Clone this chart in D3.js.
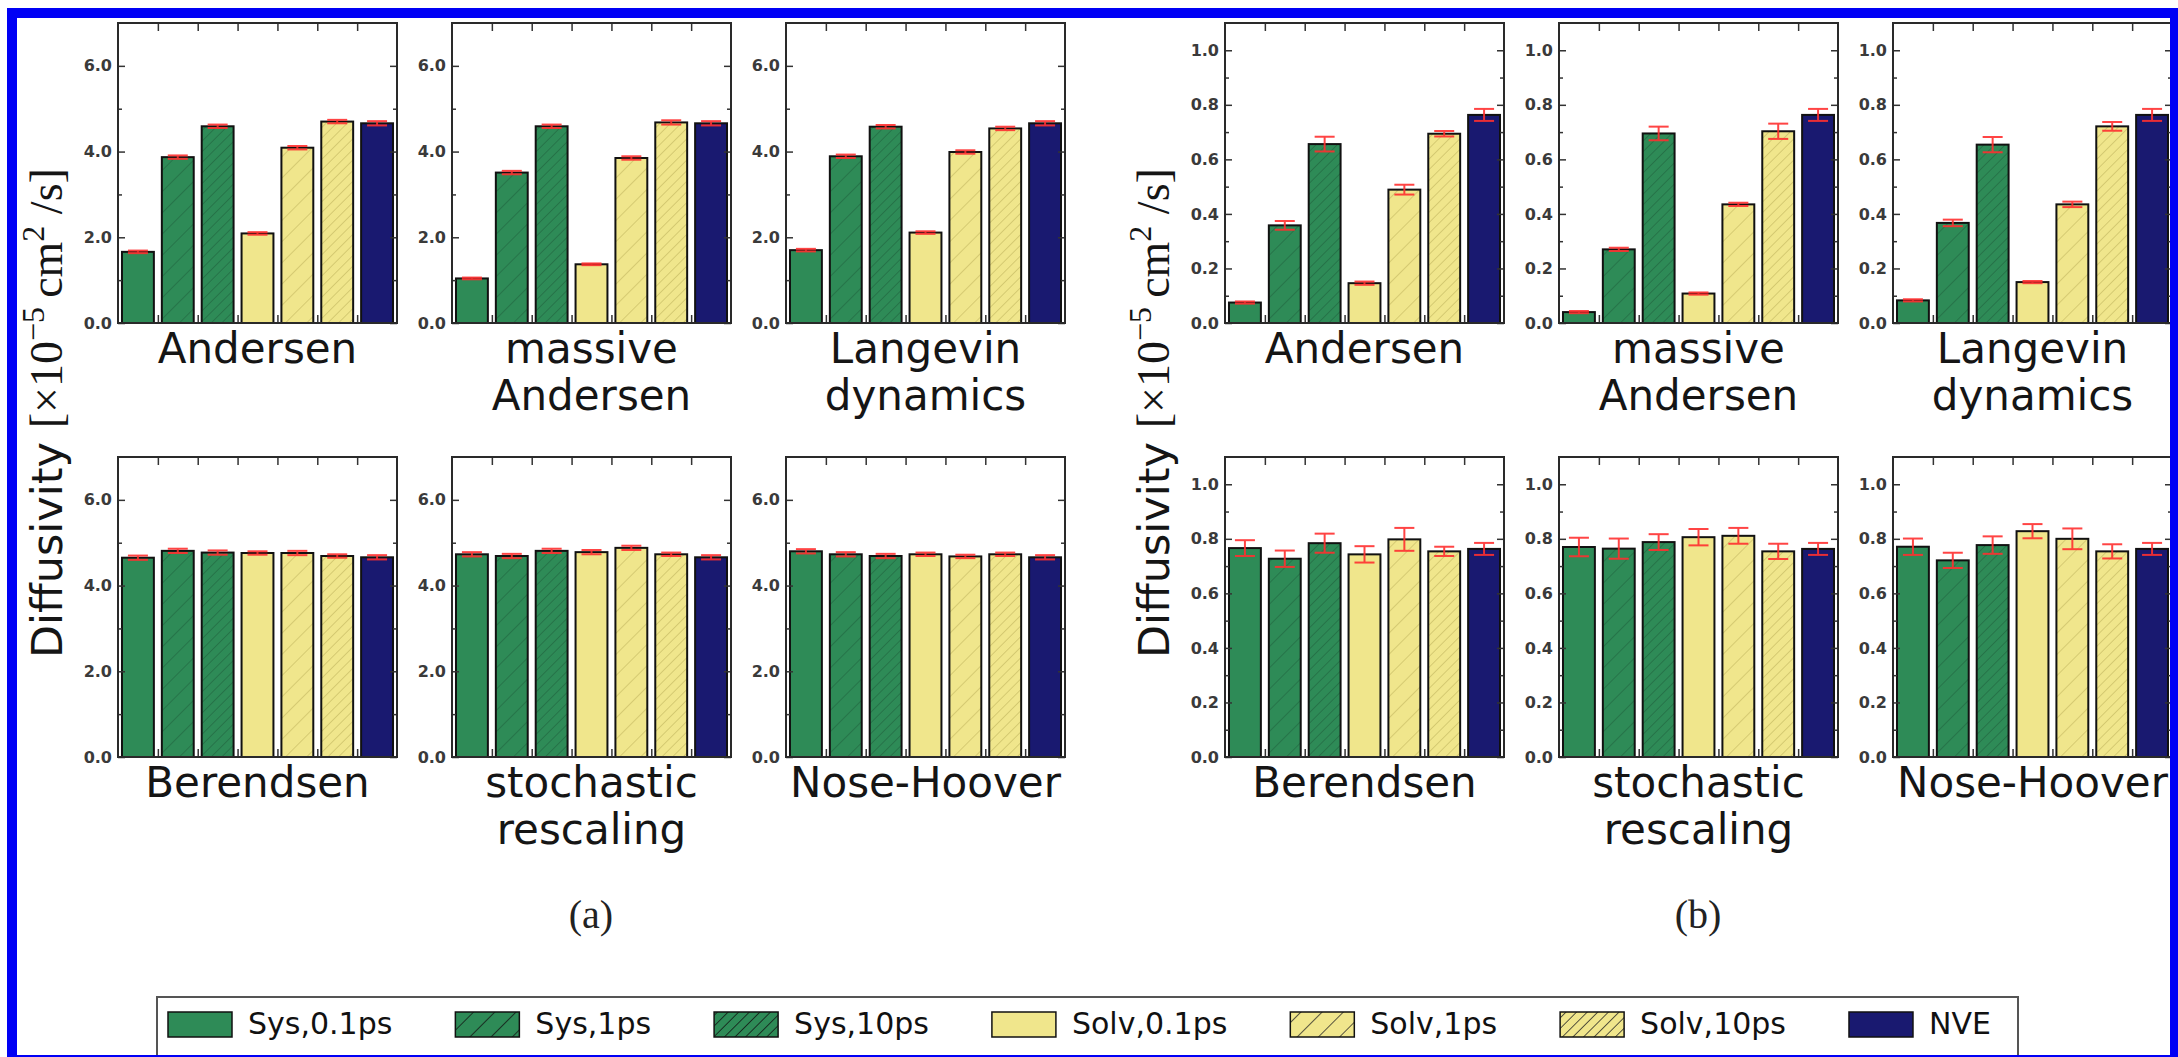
<!DOCTYPE html>
<html>
<head>
<meta charset="utf-8">
<script src="https://cdn.jsdelivr.net/npm/d3@7"></script>
<style>
  html, body { margin: 0; padding: 0; background: #fff; }
  svg { display: block; }
  .tick text { font-family: "DejaVu Sans", sans-serif; font-weight: bold; font-size: 16px; fill: #3a3a3a; }
  .tick line { stroke: #333; stroke-width: 1.5; }
  .cat { font-family: "DejaVu Sans", sans-serif; font-size: 42px; fill: #151515; }
</style>
</head>
<body>
<div id="chart"></div>
<script>
// series (bar order inside every panel)
var series = ["Sys,0.1ps", "Sys,1ps", "Sys,10ps", "Solv,0.1ps", "Solv,1ps", "Solv,10ps", "NVE"];
// thermostat names, one per panel (row 1 then row 2)
var methods = [["Andersen"], ["massive", "Andersen"], ["Langevin", "dynamics"],
               ["Berendsen"], ["stochastic", "rescaling"], ["Nose-Hoover"]];

// (a) diffusivity values
var aAndersen   = [1.66, 3.87, 4.59, 2.09, 4.09, 4.70, 4.66];
var aMassive    = [1.04, 3.51, 4.59, 1.37, 3.85, 4.68, 4.66];
var aLangevin   = [1.70, 3.89, 4.58, 2.11, 3.99, 4.54, 4.66];
var aBerendsen  = [4.65, 4.81, 4.77, 4.76, 4.76, 4.69, 4.66];
var aStochastic = [4.73, 4.69, 4.81, 4.78, 4.88, 4.73, 4.66];
var aNoseHoover = [4.80, 4.73, 4.69, 4.73, 4.68, 4.73, 4.66];
// (a) errors
var aAndersenErr   = [0.03, 0.04, 0.04, 0.03, 0.04, 0.04, 0.05];
var aMassiveErr    = [0.02, 0.04, 0.04, 0.02, 0.04, 0.05, 0.05];
var aLangevinErr   = [0.03, 0.04, 0.04, 0.03, 0.04, 0.04, 0.05];
var aBerendsenErr  = [0.05, 0.05, 0.05, 0.04, 0.05, 0.04, 0.05];
var aStochasticErr = [0.05, 0.05, 0.05, 0.05, 0.05, 0.04, 0.05];
var aNoseHooverErr = [0.05, 0.05, 0.05, 0.04, 0.04, 0.04, 0.05];

// (b) diffusivity values
var bAndersen   = [0.075, 0.358, 0.656, 0.146, 0.489, 0.694, 0.763];
var bMassive    = [0.040, 0.270, 0.695, 0.108, 0.435, 0.703, 0.763];
var bLangevin   = [0.083, 0.367, 0.654, 0.150, 0.435, 0.721, 0.763];
var bBerendsen  = [0.766, 0.727, 0.784, 0.743, 0.798, 0.754, 0.763];
var bStochastic = [0.770, 0.764, 0.788, 0.806, 0.811, 0.754, 0.763];
var bNoseHoover = [0.771, 0.721, 0.777, 0.828, 0.800, 0.754, 0.763];
// (b) errors
var bAndersenErr   = [0.004, 0.016, 0.027, 0.006, 0.018, 0.010, 0.022];
var bMassiveErr    = [0.004, 0.006, 0.025, 0.004, 0.006, 0.028, 0.022];
var bLangevinErr   = [0.004, 0.012, 0.028, 0.004, 0.010, 0.016, 0.022];
var bBerendsenErr  = [0.029, 0.030, 0.035, 0.030, 0.042, 0.017, 0.022];
var bStochasticErr = [0.034, 0.037, 0.029, 0.030, 0.029, 0.028, 0.022];
var bNoseHooverErr = [0.030, 0.028, 0.032, 0.026, 0.038, 0.026, 0.022];

// y ticks
var aMajorTicks = [0, 2, 4, 6];
var aMinorTicks = [1, 3, 5];
var bMajorTicks = [0, 0.2, 0.4, 0.6, 0.8, 1.0];
var bMinorTicks = [0.1, 0.3, 0.5, 0.7, 0.9];

var colors = {
  sys: "#2e8b57",
  solv: "#f0e68c",
  nve: "#191970"
};

var W = 2178, H = 1057;
var pw = 279, ph = 300;
var rowTop = [23, 457];

var svg = d3.select("#chart").append("svg")
  .attr("width", W).attr("height", H);

svg.append("rect").attr("width", W).attr("height", H).attr("fill", "#fff");

// hatch patterns
var defs = svg.append("defs");
function hatch(id, color, gap, lineColor, lw) {
  var p = defs.append("pattern")
    .attr("id", id)
    .attr("patternUnits", "userSpaceOnUse")
    .attr("width", gap).attr("height", gap)
    .attr("patternTransform", "rotate(45)");
  p.append("rect").attr("width", gap).attr("height", gap).attr("fill", color);
  p.append("line").attr("x1", 0).attr("y1", 0).attr("x2", 0).attr("y2", gap)
    .attr("stroke", lineColor).attr("stroke-width", lw);
}
hatch("sys1", colors.sys, 15, "rgba(0,0,0,0.22)", 1.5);
hatch("sys10", colors.sys, 7.5, "rgba(0,0,0,0.22)", 1.5);
hatch("solv1", colors.solv, 15, "rgba(90,80,0,0.25)", 1.5);
hatch("solv10", colors.solv, 7.5, "rgba(90,80,0,0.25)", 1.5);
hatch("lsys1", colors.sys, 15, "#111", 1.5);
hatch("lsys10", colors.sys, 7.5, "#111", 1.5);
hatch("lsolv1", colors.solv, 15, "#222", 1.5);
hatch("lsolv10", colors.solv, 7.5, "#222", 1.5);

var barFill = [colors.sys, "url(#sys1)", "url(#sys10)", colors.solv, "url(#solv1)", "url(#solv10)", colors.nve];
var legendFill = [colors.sys, "url(#lsys1)", "url(#lsys10)", colors.solv, "url(#lsolv1)", "url(#lsolv10)", colors.nve];

function drawPanel(left, top, values, errs, yMax, major, minor, labelLines) {
  var g = svg.append("g").attr("transform", "translate(" + left + "," + top + ")");

  var x = d3.scaleBand().domain(series).range([0, pw]).paddingInner(0.2).paddingOuter(0.1);
  var xt = d3.scaleLinear().domain([0, 7]).range([0, pw]);
  var y = d3.scaleLinear().domain([0, yMax]).range([ph, 0]);

  var data = series.map(function(s, i) { return { s: s, v: values[i], e: errs[i], i: i }; });

  g.selectAll("rect.bar").data(data).enter().append("rect")
    .attr("class", "bar")
    .attr("x", function(d) { return x(d.s); })
    .attr("width", x.bandwidth())
    .attr("y", function(d) { return y(d.v); })
    .attr("height", function(d) { return ph - y(d.v); })
    .attr("fill", function(d) { return barFill[d.i]; })
    .attr("stroke", "#111")
    .attr("stroke-width", 2);

  // error bars
  var eb = g.selectAll("g.err").data(data).enter().append("g").attr("class", "err")
    .attr("stroke", "#ff3030").attr("stroke-width", 2).attr("opacity", 0.9);
  eb.append("line")
    .attr("x1", function(d) { return x(d.s) + x.bandwidth() / 2; })
    .attr("x2", function(d) { return x(d.s) + x.bandwidth() / 2; })
    .attr("y1", function(d) { return y(d.v - d.e); })
    .attr("y2", function(d) { return y(d.v + d.e); });
  [-1, 1].forEach(function(k) {
    eb.append("line")
      .attr("x1", function(d) { return x(d.s) + x.bandwidth() / 2 - 10; })
      .attr("x2", function(d) { return x(d.s) + x.bandwidth() / 2 + 10; })
      .attr("y1", function(d) { return y(d.v + k * d.e); })
      .attr("y2", function(d) { return y(d.v + k * d.e); });
  });

  // axes, ticks pointing inward like matplotlib classic
  g.append("g").call(d3.axisLeft(y).tickValues(major).tickFormat(d3.format(".1f"))
    .tickSizeInner(-7).tickSizeOuter(0).tickPadding(6));
  g.append("g").call(d3.axisLeft(y).tickValues(minor).tickFormat("")
    .tickSizeInner(-4).tickSizeOuter(0));
  g.append("g").attr("transform", "translate(" + pw + ",0)")
    .call(d3.axisRight(y).tickValues(major).tickFormat("").tickSizeInner(-7).tickSizeOuter(0));
  g.append("g").attr("transform", "translate(" + pw + ",0)")
    .call(d3.axisRight(y).tickValues(minor).tickFormat("").tickSizeInner(-4).tickSizeOuter(0));
  g.append("g")
    .call(d3.axisTop(xt).tickValues([1, 2, 3, 4, 5, 6]).tickFormat("").tickSizeInner(-8).tickSizeOuter(0));
  g.append("g").attr("transform", "translate(0," + ph + ")")
    .call(d3.axisBottom(xt).tickValues([1, 2, 3, 4, 5, 6]).tickFormat("").tickSizeInner(-8).tickSizeOuter(0));
  g.selectAll(".domain").remove();

  g.append("rect").attr("width", pw).attr("height", ph)
    .attr("fill", "none").attr("stroke", "#2a2a2a").attr("stroke-width", 2);

  var t = g.append("text").attr("class", "cat").attr("text-anchor", "middle")
    .attr("x", pw / 2).attr("y", ph + 40);
  labelLines.forEach(function(line, k) {
    t.append("tspan").attr("x", pw / 2).attr("dy", k === 0 ? 0 : 47).text(line);
  });
}

var aSets = [[aAndersen, aAndersenErr], [aMassive, aMassiveErr], [aLangevin, aLangevinErr],
             [aBerendsen, aBerendsenErr], [aStochastic, aStochasticErr], [aNoseHoover, aNoseHooverErr]];
var bSets = [[bAndersen, bAndersenErr], [bMassive, bMassiveErr], [bLangevin, bLangevinErr],
             [bBerendsen, bBerendsenErr], [bStochastic, bStochasticErr], [bNoseHoover, bNoseHooverErr]];
var aLeft = [118, 452, 786];
var bLeft = [1225, 1559, 1893];

for (var k = 0; k < 6; k++) {
  var row = Math.floor(k / 3), col = k % 3;
  drawPanel(aLeft[col], rowTop[row], aSets[k][0], aSets[k][1], 7, aMajorTicks, aMinorTicks, methods[k]);
  drawPanel(bLeft[col], rowTop[row], bSets[k][0], bSets[k][1], 1.1, bMajorTicks, bMinorTicks, methods[k]);
}

// shared y labels
function yLabel(xb) {
  var t = svg.append("text")
    .attr("transform", "translate(" + xb + ",658) rotate(-90)")
    .attr("text-anchor", "start")
    .attr("fill", "#151515");
  t.append("tspan").attr("font-family", "DejaVu Sans, sans-serif").attr("font-size", 43).text("Diffusivity ");
  var m = t.append("tspan").attr("font-family", "Liberation Serif, DejaVu Serif, serif").attr("font-size", 46);
  m.append("tspan").text("[\u00d710");
  m.append("tspan").attr("font-size", 32).attr("dy", -18).text("\u22125");
  m.append("tspan").attr("dy", 18).text("\u2009cm");
  m.append("tspan").attr("font-size", 32).attr("dy", -18).text("2");
  m.append("tspan").attr("dy", 18).text(" /s]");
}
yLabel(62);
yLabel(1169);

// panel captions
svg.append("text").attr("x", 591).attr("y", 928).attr("text-anchor", "middle")
  .attr("font-family", "Liberation Serif, serif").attr("font-size", 40).attr("fill", "#222").text("(a)");
svg.append("text").attr("x", 1698).attr("y", 928).attr("text-anchor", "middle")
  .attr("font-family", "Liberation Serif, serif").attr("font-size", 40).attr("fill", "#222").text("(b)");

// legend
var lg = svg.append("g");
lg.append("rect").attr("x", 157).attr("y", 997).attr("width", 2018 - 157).attr("height", 60)
  .attr("fill", "#fff").attr("stroke", "#555").attr("stroke-width", 2);
var lx = 168;
series.forEach(function(s, i) {
  lg.append("rect").attr("x", lx).attr("y", 1012).attr("width", 64).attr("height", 25)
    .attr("fill", legendFill[i]).attr("stroke", "#111").attr("stroke-width", 1.5);
  var txt = lg.append("text").attr("x", lx + 80).attr("y", 1034)
    .attr("font-family", "DejaVu Sans, sans-serif").attr("font-size", 30).attr("fill", "#111").text(s);
  lx += 80 + txt.node().getComputedTextLength() + 63;
});

// blue frame
svg.append("rect").attr("x", 12).attr("y", 13).attr("width", 2163).attr("height", 1047)
  .attr("fill", "none").attr("stroke", "#0000f5").attr("stroke-width", 10);
</script>
</body>
</html>
